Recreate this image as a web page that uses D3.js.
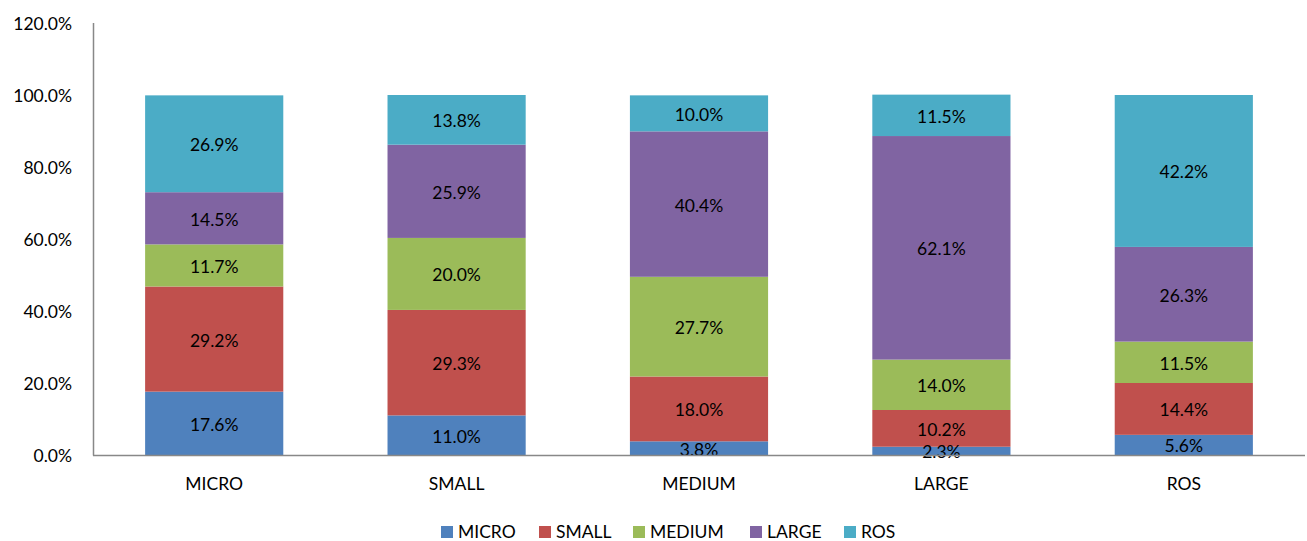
<!DOCTYPE html>
<html><head><meta charset="utf-8">
<script src="https://cdn.jsdelivr.net/npm/d3@7"></script>
<style>body{margin:0;background:#fff}svg{display:block}text{font-family:"Lato","Open Sans",sans-serif;fill:#000}</style>
</head><body>
<script>
const categories = ["MICRO","SMALL","MEDIUM","LARGE","ROS"];
const seriesNames = ["MICRO","SMALL","MEDIUM","LARGE","ROS"];
const micro  = [17.6, 11.0, 3.8, 2.3, 5.6];
const small  = [29.2, 29.3, 18.0, 10.2, 14.4];
const medium = [11.7, 20.0, 27.7, 14.0, 11.5];
const large  = [14.5, 25.9, 40.4, 62.1, 26.3];
const ros    = [26.9, 13.8, 10.0, 11.5, 42.2];
const yTicks = [0,20,40,60,80,100,120];
const colors = ["#4F81BD","#C0504D","#9BBB59","#8064A2","#4BACC6"];

const W=1307,H=541,FS=17.5;
const svg=d3.select("body").append("svg").attr("width",W).attr("height",H);
const x=d3.scaleBand().domain(categories).range([93,1305]).paddingInner(0.43).paddingOuter(0.215);
const y=d3.scaleLinear().domain([0,120]).range([455,23]);

const seriesVals=[micro,small,medium,large,ros];
const rows=categories.map((c,i)=>{const o={cat:c};seriesNames.forEach((s,j)=>o[s]=seriesVals[j][i]);return o;});
const stack=d3.stack().keys(seriesNames)(rows);

const g=svg.append("g");
stack.forEach((layer,j)=>{
  layer.forEach(d=>{
    g.append("rect").attr("x",x(d.data.cat)).attr("width",x.bandwidth())
     .attr("y",y(d[1])).attr("height",y(d[0])-y(d[1])).attr("fill",colors[j]);
  });
});
stack.forEach((layer,j)=>{
  layer.forEach(d=>{
    g.append("text").attr("x",x(d.data.cat)+x.bandwidth()/2).attr("y",(y(d[0])+y(d[1]))/2+1)
     .attr("text-anchor","middle").attr("dominant-baseline","central").attr("font-size",FS)
     .text(d3.format(".1f")(d[1]-d[0])+"%");
  });
});

// axes
svg.append("line").attr("x1",93.5).attr("x2",93.5).attr("y1",23).attr("y2",455.5).attr("stroke","#888").attr("stroke-width",1.5);
svg.append("line").attr("x1",93).attr("x2",1305).attr("y1",455.5).attr("y2",455.5).attr("stroke","#888").attr("stroke-width",1.5);
yTicks.forEach(t=>{
  svg.append("text").attr("x",72).attr("y",y(t)).attr("text-anchor","end").attr("dominant-baseline","central")
   .attr("font-size",FS).text(d3.format(".1f")(t)+"%");
});
categories.forEach(c=>{
  svg.append("text").attr("x",x(c)+x.bandwidth()/2).attr("y",483).attr("text-anchor","middle")
   .attr("dominant-baseline","central").attr("font-size",FS).text(c);
});
// legend
const legX=[441,539,633,750,844];
seriesNames.forEach((s,j)=>{
  svg.append("rect").attr("x",legX[j]).attr("y",526).attr("width",12).attr("height",12).attr("fill",colors[j]);
  svg.append("text").attr("x",legX[j]+17).attr("y",531).attr("dominant-baseline","central").attr("font-size",FS).text(s);
});
</script>
</body></html>
